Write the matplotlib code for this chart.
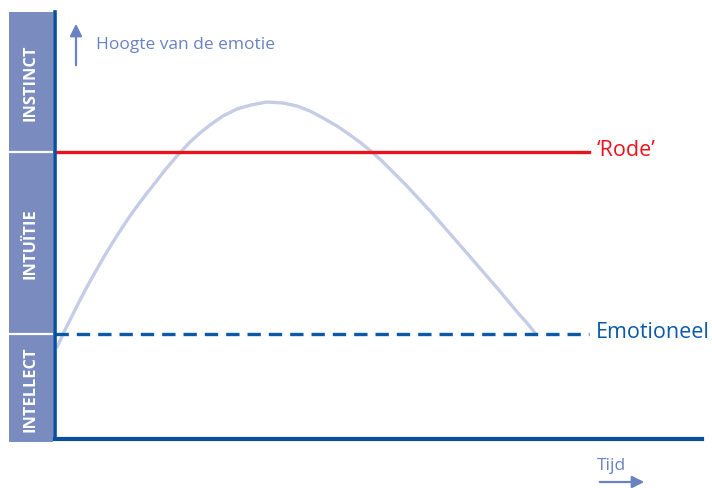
import matplotlib
matplotlib.use("Agg")
import matplotlib.pyplot as plt
from matplotlib.patches import Rectangle

plt.rcParams['font.family'] = ['Open Sans', 'DejaVu Sans']

# curve (time, height)
tijd = [2, 10, 17, 25, 33, 42, 50, 58, 67, 75, 83, 92, 100, 110, 122, 135,
        145, 155, 168, 182, 196, 212, 228, 242, 255, 268, 282, 295, 306, 317,
        327, 337, 350, 363, 376, 390, 404, 417, 430, 443, 453, 463, 472, 480]
hoogte = [92, 109, 123, 139, 154, 170, 184, 197, 211, 223, 234, 246, 256, 269,
          283, 297, 306, 314, 323, 330, 334, 337, 336, 333, 328, 321, 313, 304,
          296, 287, 278, 268, 255, 241, 227, 211, 195, 180, 165, 150, 138, 126,
          116, 106]

niveaus = ['INTELLECT', 'INTUÏTIE', 'INSTINCT']
grenzen = [-3, 105, 287, 427]
rode = 287
emotioneel = 105
lijn_eind = 534

band_kleur = '#7a8bc0'
donkerblauw = '#0a4f9e'
lichtblauw = '#6a82c2'
rood = '#e8141c'

fig = plt.figure(figsize=(7.12, 4.89), dpi=100)
ax = fig.add_axes([55 / 712, 49 / 489, 647 / 712, 427 / 489])
ax.set_xlim(0, 647)
ax.set_ylim(0, 427)

for s in ['top', 'right']:
    ax.spines[s].set_visible(False)
ax.spines['left'].set_color(donkerblauw)
ax.spines['left'].set_linewidth(2.6)
ax.spines['bottom'].set_color(donkerblauw)
ax.spines['bottom'].set_linewidth(3)
ax.set_xticks([])
ax.set_yticks([])

# side band with levels
for i, naam in enumerate(niveaus):
    y0, y1 = grenzen[i], grenzen[i + 1]
    ax.add_patch(Rectangle((-46, y0), 44, y1 - y0, facecolor=band_kleur,
                           edgecolor='none', clip_on=False))
    ax.text(-24, (y0 + y1) / 2, naam, rotation=90, color='white',
            fontsize=11.8, fontweight='bold', ha='center', va='center')
for g in grenzen[1:3]:
    ax.plot([-46, -2], [g, g], color='white', lw=1.6, clip_on=False)

ax.plot(tijd, hoogte, color='#c5cce6', lw=2.4, solid_capstyle='round',
        solid_joinstyle='round')
ax.plot([0, lijn_eind], [rode, rode], color=rood, lw=2.4)
ax.plot([0, lijn_eind], [emotioneel, emotioneel], color='#0a5aa8', lw=2.4,
        dashes=(4, 2.4))

ax.text(542, rode + 2, '\u2018Rode\u2019', color=rood, fontsize=15.5,
        va='center')
ax.text(541, emotioneel + 2, 'Emotioneel', color='#0a5aa8', fontsize=15.5,
        va='center')

ax.annotate('', xy=(21, 418), xytext=(21, 371),
            arrowprops=dict(arrowstyle='-|>', color=lichtblauw, lw=1.6,
                            mutation_scale=18))
ax.text(41, 395, 'Hoogte van de emotie', color=lichtblauw, fontsize=12.5,
        va='center')

ax.text(542, -26, 'Tijd', color=lichtblauw, fontsize=12.5, va='center',
        clip_on=False)
ax.annotate('', xy=(592, -43), xytext=(542, -43), annotation_clip=False,
            arrowprops=dict(arrowstyle='-|>', color=lichtblauw, lw=1.6,
                            mutation_scale=18))

fig.savefig('out.png', dpi=100)
